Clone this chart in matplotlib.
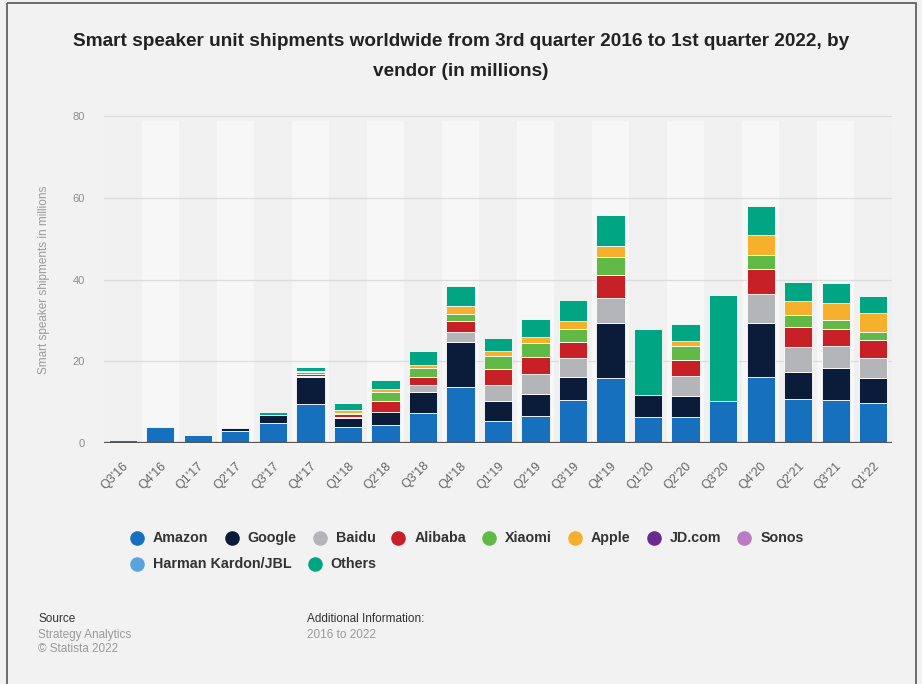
import matplotlib
matplotlib.use('Agg')
import matplotlib.pyplot as plt
from matplotlib import font_manager
from matplotlib.patches import Rectangle
import numpy as np

plt.rcParams['font.family'] = ['Liberation Sans', 'DejaVu Sans']

quarters = ["Q3'16", "Q4'16", "Q1'17", "Q2'17", "Q3'17", "Q4'17", "Q1'18", "Q2'18",
            "Q3'18", "Q4'18", "Q1'19", "Q2'19", "Q3'19", "Q4'19", "Q1'20", "Q2'20",
            "Q3'20", "Q4'20", "Q2'21", "Q3'21", "Q1'22"]

amazon = [0.8, 4.0, 2.0, 2.9, 5.0, 9.5, 3.8, 4.5, 7.3, 13.6, 5.5, 6.6, 10.5, 15.8, 6.4, 6.4, 10.3, 16.2, 10.7, 10.5, 9.7]
google = [0, 0, 0, 0.7, 1.8, 6.6, 2.4, 3.1, 5.2, 11.1, 4.8, 5.4, 5.7, 13.6, 5.3, 5.0, 0, 13.2, 6.7, 7.9, 6.2]
baidu = [0, 0, 0, 0, 0, 0.3, 0.2, 0, 1.7, 2.4, 3.9, 5.0, 4.7, 6.0, 0, 5.1, 0, 7.0, 6.2, 5.4, 5.0]
alibaba = [0, 0, 0, 0, 0, 0.6, 0.7, 2.7, 1.9, 2.8, 3.8, 4.1, 3.7, 5.7, 0, 3.9, 0, 6.1, 4.9, 4.2, 4.4]
xiaomi = [0, 0, 0, 0, 0, 0.3, 0.3, 2.1, 2.2, 1.7, 3.3, 3.3, 3.3, 4.5, 0, 3.3, 0, 3.5, 2.7, 2.2, 1.9]
apple = [0, 0, 0, 0, 0, 0.4, 0.6, 0.9, 0.9, 1.9, 1.3, 1.6, 2.0, 2.6, 0, 1.3, 0, 5.0, 3.6, 4.1, 4.7]
jd = [0] * 21
sonos = [0] * 21
harman = [0] * 21
others = [0, 0, 0, 0, 0.9, 1.0, 1.7, 2.1, 3.4, 4.9, 3.2, 4.3, 5.1, 7.5, 16.1, 4.1, 25.9, 7.1, 4.6, 4.8, 4.0]

vendors = ['Amazon', 'Google', 'Baidu', 'Alibaba', 'Xiaomi', 'Apple', 'JD.com', 'Sonos',
           'Harman Kardon/JBL', 'Others']
series = [amazon, google, baidu, alibaba, xiaomi, apple, jd, sonos, harman, others]
colors = ['#1770be', '#0b1c3b', '#b3b5b8', '#c72027', '#60ba45', '#f7b02b', '#6a2b91',
          '#b97cc4', '#5aa3de', '#00a683']

bg = '#f2f2f2'
fig = plt.figure(figsize=(9.22, 6.84), dpi=100, facecolor=bg)
W, H = 922, 684

ax = fig.add_axes([104 / W, 1 - 443 / H, 788 / W, 327 / H])
ax.set_facecolor('none')
x = np.arange(len(quarters))

for i in x:
    ax.axvspan(i - 0.5, i + 0.5, ymin=0, ymax=0.985,
               color='#f7f7f7' if i % 2 else '#f0f0f0', zorder=0, lw=0)

bottom = np.zeros(len(quarters))
for name, vals, c in zip(vendors, series, colors):
    v = np.array(vals, dtype=float)
    h = np.where(v > 0, v, np.nan)
    ax.bar(x, h, bottom=bottom, width=0.755, color=c, edgecolor='white',
           linewidth=0.6, zorder=2)
    bottom = bottom + v

ax.set_xlim(-0.5, len(quarters) - 0.5)
ax.set_ylim(0, 80)
ax.set_yticks([0, 20, 40, 60, 80])
ax.yaxis.grid(True, color='#dcdcdc', lw=0.9, zorder=0.5)
ax.set_axisbelow(True)
ax.axhline(0, color='#555555', lw=1.6, zorder=3)
for s in ax.spines.values():
    s.set_visible(False)
ax.tick_params(axis='y', length=0, pad=14, labelsize=8, labelcolor='#8c8c8c')
ax.tick_params(axis='x', length=0, pad=12, labelsize=9, labelcolor='#666666')
ax.set_xticks(x)
ax.set_xticklabels(quarters, rotation=45, ha='right', va='top', rotation_mode='anchor')
ax.set_ylabel('Smart speaker shipments in millions', fontsize=8.5, color='#9a9a9a',
              labelpad=16)

# overlay in pixel coordinates for title, legend and footer
ov = fig.add_axes([0, 0, 1, 1], zorder=-1)
ov.set_xlim(0, W)
ov.set_ylim(H, 0)
ov.axis('off')

ov.add_patch(Rectangle((7, 3), 909, H + 10, fill=False, edgecolor='#555555', lw=1.2))

names = {f.name for f in font_manager.fontManager.ttflist}
if 'Liberation Sans Narrow' in names:
    tfam, tsize = ['Liberation Sans Narrow', 'DejaVu Sans'], 14.5
else:
    tfam, tsize = ['Liberation Sans', 'DejaVu Sans'], 13.7
title1 = 'Smart speaker unit shipments worldwide from 3rd quarter 2016 to 1st quarter 2022, by'
title2 = 'vendor (in millions)'
ov.text(461, 41, title1, ha='center', va='center', fontsize=tsize, fontweight='bold',
        family=tfam, color='#222222')
ov.text(461, 71, title2, ha='center', va='center', fontsize=tsize, fontweight='bold',
        family=tfam, color='#222222')

# legend laid out as a flowing row of circle + label
fig.canvas.draw()
renderer = fig.canvas.get_renderer()
lx, ly = 137, 538
for name, c in zip(vendors, colors):
    t = ov.text(lx + 16, ly, name, ha='left', va='center', fontsize=10.3,
                fontweight='bold', color='#333333')
    bb = t.get_window_extent(renderer)
    if lx + 16 + bb.width > 905:
        t.remove()
        lx, ly = 137, ly + 26
        t = ov.text(lx + 16, ly, name, ha='left', va='center', fontsize=10.3,
                    fontweight='bold', color='#333333')
        bb = t.get_window_extent(renderer)
    ov.plot(lx, ly, 'o', ms=10.5, color=c, mec='none')
    lx = lx + 16 + bb.width + 23

ov.text(38, 619, 'Source', fontsize=8.5, color='#333333', va='center')
ov.text(38, 635, 'Strategy Analytics', fontsize=8.5, color='#9a9a9a', va='center')
ov.text(38, 649, '\u00a9 Statista 2022', fontsize=8.5, color='#9a9a9a', va='center')
ov.text(307, 619, 'Additional Information:', fontsize=8.5, color='#333333', va='center')
ov.text(307, 635, '2016 to 2022', fontsize=8.5, color='#9a9a9a', va='center')

fig.savefig('out.png', dpi=100, facecolor=bg)
